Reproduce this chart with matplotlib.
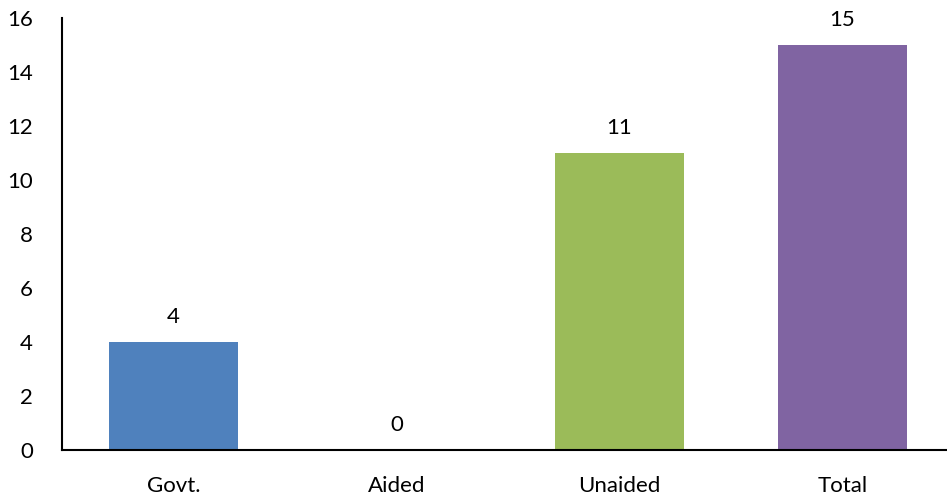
import matplotlib
matplotlib.use('Agg')
from matplotlib import pyplot as plt

categories = ['Govt.', 'Aided', 'Unaided', 'Total']
values = [4, 0, 11, 15]
colors = ['#4F81BD', '#C0504D', '#9BBB59', '#8064A2']

plt.rcParams['font.family'] = ['Lato', 'DejaVu Sans']

fig = plt.figure(figsize=(9.47, 5), dpi=100)
ax = fig.add_axes([62 / 947, 0.1, 892 / 947, 432 / 500])

x = range(len(categories))
bars = ax.bar(x, values, width=0.575, color=colors)
for bar, v in zip(bars, values):
    ax.text(bar.get_x() + bar.get_width() / 2, v + 0.55, str(v),
            ha='center', va='bottom', fontsize=16)

ax.set_xlim(-0.5, 3.5)
ax.set_ylim(0, 16)
ax.set_yticks(range(0, 17, 2))
ax.set_xticks(list(x))
ax.set_xticklabels(categories)
ax.tick_params(axis='both', length=0, labelsize=16)
ax.tick_params(axis='y', pad=21)
ax.tick_params(axis='x', pad=19)
for side in ['top', 'right']:
    ax.spines[side].set_visible(False)
for side in ['left', 'bottom']:
    ax.spines[side].set_linewidth(1.5)

fig.savefig('out.png', dpi=100)
